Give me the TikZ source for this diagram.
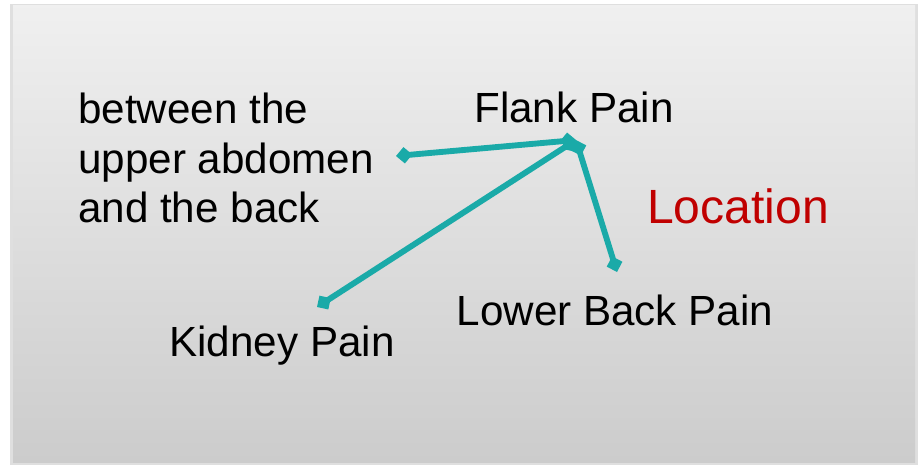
\documentclass[tikz,border=0pt]{standalone}
\usepackage{fontspec}
\setmainfont{Liberation Sans}
\usetikzlibrary{arrows.meta, positioning}
\definecolor{PainTeal}{RGB}{26,170,168}
\definecolor{PainRed}{RGB}{192,0,0}

\begin{document}
\begin{tikzpicture}[x=0.03cm, y=-0.03cm,
      lbl/.style={font=\fontsize{36}{42.5}\selectfont, inner sep=0pt},
      conn/.style={PainTeal, line width=5pt, {Diamond[length=14pt,width=14pt]}-{Diamond[length=14pt,width=14pt]}}
    ]
    \useasboundingbox (0,0) rectangle (922,466);

    %--- Panel ---
    \fill[gray!25] (10,4) rectangle (918,465);
    \shade[top color=gray!12, bottom color=gray!40] (13,5) rectangle (915,462);

    %--- Labels ---
    \node[lbl, anchor=west, align=left] (region) at (78,158)
          {between the\\upper abdomen\\and the back};
    \node[lbl] (flank) at (574,107) {Flank Pain};
    \node[lbl] (lower) at (615,310) {Lower Back Pain};
    \node[lbl] (kidney) at (282,346) {Kidney Pain};
    \node[lbl, PainRed, font=\fontsize{41}{48}\selectfont] (loc) at (738,206) {Location};

    %--- Connectors ---
    \coordinate (hub) at (576,140);
    \coordinate (regionEnd) at (396,156);
    \coordinate (kidneyEnd) at (317,307);
    \coordinate (lowerEnd) at (617,272);
    \foreach \e in {regionEnd, kidneyEnd, lowerEnd}
      \draw[conn] (hub) -- (\e);
\end{tikzpicture}
\end{document}
